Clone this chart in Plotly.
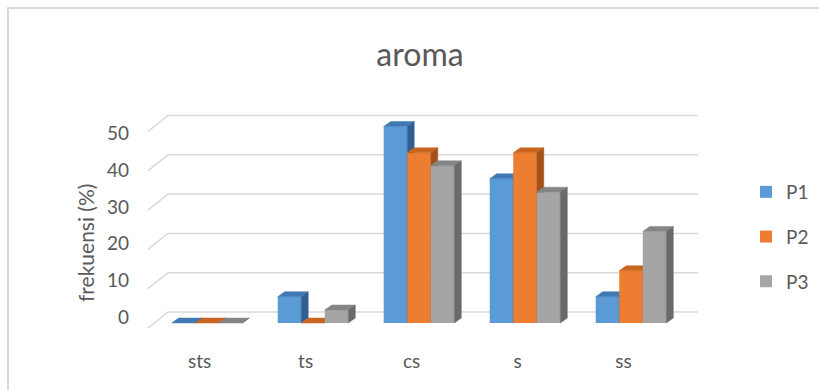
import plotly.graph_objects as go

# ---- data -------------------------------------------------------------
categories = ["sts", "ts", "cs", "s", "ss"]
series_names = ["P1", "P2", "P3"]
p1 = [0, 6.7, 50.0, 36.7, 6.7]
p2 = [0, 0, 43.3, 43.3, 13.3]
p3 = [0, 3.3, 40.0, 33.3, 23.3]
y_ticks = [0, 10, 20, 30, 40, 50]

series_values = [p1, p2, p3]
front_colors = ["#5B9BD5", "#ED7D31", "#A5A5A5"]
top_colors = ["#4179B4", "#C9651F", "#858585"]
side_colors = ["#2F5F92", "#A4521A", "#6A6A6A"]

# ---- geometry of the pseudo-3D view ------------------------------------
W = 0.222            # width of one column (category units)
DX, DY = 0.066, 1.27 # depth offset of column tops/sides (x units, y units)
X_RANGE = [-0.632, 4.698]
Y_RANGE = [-3.05, 56.74]
# gridline geometry: front end, back-wall start, back-wall end
GX_FRONT, GX_BACK, GX_END = -0.557, -0.368, 4.632
GY_FRONT, GY_BACK = -1.27, 2.8

W_PX, H_PX = 819, 390
M_L, M_R, M_T, M_B = 140, 114, 100, 55
PLOT_W = W_PX - M_L - M_R
PLOT_H = H_PX - M_T - M_B


def px_to_paper(px, py):
    return (px - M_L) / PLOT_W, (H_PX - M_B - py) / PLOT_H


text_color = "#595959"
font_family = "Lato, 'Open Sans', sans-serif"

fig = go.Figure()

# back-wall gridlines with their diagonal side-wall segments
gx, gy = [], []
for t in y_ticks:
    gx += [GX_FRONT, GX_BACK, GX_END, None]
    gy += [t + GY_FRONT, t + GY_BACK, t + GY_BACK, None]
fig.add_trace(go.Scatter(x=gx, y=gy, mode="lines",
                         line=dict(color="#D9D9D9", width=1.5),
                         hoverinfo="skip", showlegend=False,
                         xaxis="x", yaxis="y"))

# each series on its own overlaid subplot so later series cover earlier ones
idx = list(range(len(categories)))
for k, (name, vals) in enumerate(zip(series_names, series_values)):
    xa, ya = f"x{k + 2}", f"y{k + 2}"
    off = -1.5 * W + k * W
    fig.add_trace(go.Bar(x=idx, y=vals, width=W, offset=off, name=name,
                         marker=dict(color=front_colors[k], line=dict(width=0)),
                         legendgroup=name, xaxis=xa, yaxis=ya))
    tx, ty, sx, sy = [], [], [], []
    for i, v in zip(idx, vals):
        x0 = i + off
        x1 = x0 + W
        tx += [x0, x0 + DX, x1 + DX, x1, x0, None]
        ty += [v, v + DY, v + DY, v, v, None]
        sx += [x1, x1 + DX, x1 + DX, x1, x1, None]
        sy += [0, DY, v + DY, v, 0, None]
    fig.add_trace(go.Scatter(x=tx, y=ty, mode="lines", fill="toself",
                             fillcolor=top_colors[k],
                             line=dict(color=top_colors[k], width=0.5),
                             hoverinfo="skip", showlegend=False,
                             legendgroup=name, xaxis=xa, yaxis=ya))
    fig.add_trace(go.Scatter(x=sx, y=sy, mode="lines", fill="toself",
                             fillcolor=side_colors[k],
                             line=dict(color=side_colors[k], width=0.5),
                             hoverinfo="skip", showlegend=False,
                             legendgroup=name, xaxis=xa, yaxis=ya))

hidden_x = dict(range=X_RANGE, visible=False, overlaying="x", fixedrange=True)
hidden_y = dict(range=Y_RANGE, visible=False, overlaying="y", fixedrange=True)

# outer chart border (top and left edges)
bl = px_to_paper(8, H_PX)
tl = px_to_paper(8, 8)
tr = px_to_paper(W_PX, 8)
ytitle = px_to_paper(85, 243)

fig.update_layout(
    width=W_PX, height=H_PX,
    margin=dict(l=M_L, r=M_R, t=M_T, b=M_B, autoexpand=False),
    paper_bgcolor="white", plot_bgcolor="rgba(0,0,0,0)",
    font=dict(family=font_family, color=text_color, size=19),
    title=dict(text="aroma", x=420 / W_PX, y=1 - 55 / H_PX,
               xref="container", yref="container",
               xanchor="center", yanchor="middle",
               font=dict(size=32, color=text_color, family=font_family)),
    xaxis=dict(range=X_RANGE, tickmode="array",
               tickvals=[i - 0.07 for i in idx], ticktext=categories,
               showgrid=False, zeroline=False, showline=False, ticks="",
               ticklabelstandoff=13, fixedrange=True),
    yaxis=dict(range=Y_RANGE, tickmode="array",
               tickvals=[t * 0.933 + 1.5 for t in y_ticks],
               ticktext=[str(t) for t in y_ticks],
               showgrid=False, zeroline=False, showline=False, ticks="",
               ticklabelstandoff=10, fixedrange=True),
    xaxis2=hidden_x, yaxis2=hidden_y,
    xaxis3=hidden_x, yaxis3=hidden_y,
    xaxis4=hidden_x, yaxis4=hidden_y,
    showlegend=True,
    legend=dict(x=px_to_paper(746, 0)[0], y=px_to_paper(0, 173)[1],
                xanchor="left", yanchor="top", tracegroupgap=17,
                bgcolor="rgba(0,0,0,0)", font=dict(size=19, color=text_color)),
    annotations=[dict(text="frekuensi (%)", textangle=-90,
                      x=ytitle[0], y=ytitle[1], xref="paper", yref="paper",
                      xanchor="center", yanchor="middle", showarrow=False,
                      font=dict(size=21, color=text_color))],
    shapes=[dict(type="path", xref="paper", yref="paper",
                 path=f"M {bl[0]},{bl[1]} L {tl[0]},{tl[1]} L {tr[0]},{tr[1]}",
                 line=dict(color="#D9D9D9", width=2))],
)

fig.write_html("out.html")
